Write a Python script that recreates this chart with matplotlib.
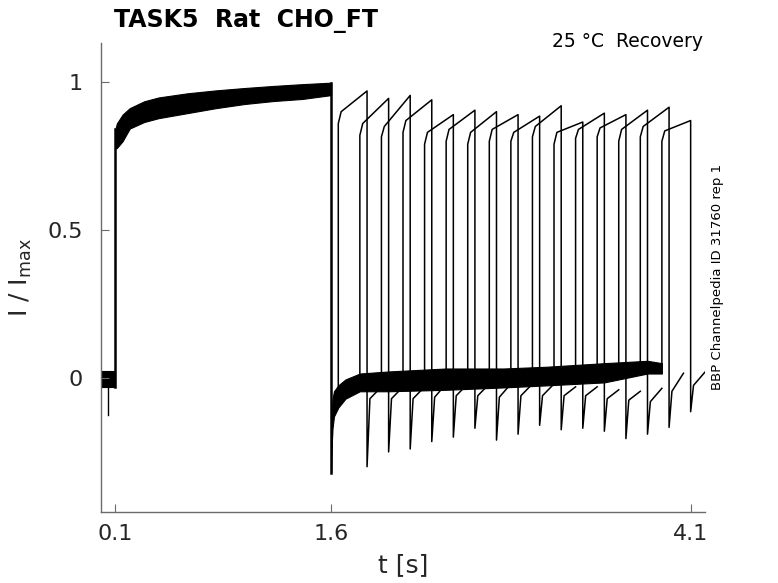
import matplotlib
matplotlib.use("Agg")
import matplotlib.pyplot as plt

# ---- data (time in s, current normalised to I_max) ----
# conditioning pulse: envelope of the overlapping sweeps
t_cond = [0.1, 0.11, 0.15, 0.2, 0.3, 0.4, 0.6, 0.8, 1.0, 1.2, 1.4, 1.6]
cond_hi = [0.84, 0.86, 0.89, 0.912, 0.935, 0.948, 0.962, 0.972, 0.98, 0.987, 0.993, 0.998]
cond_lo = [0.776, 0.777, 0.80, 0.843, 0.865, 0.878, 0.895, 0.912, 0.926, 0.936, 0.943, 0.956]

# holding level before the conditioning pulse
t_pre = [0.0, 0.1]
pre_hi = [0.025, 0.025]
pre_lo = [-0.03, -0.03]
t_pre_spike = 0.048
pre_spike = -0.125

# tail after conditioning pulse and recovery interval envelope
tail_main = -0.32
t_gap = [1.6, 1.603, 1.61, 1.62, 1.65, 1.7, 1.8, 2.0, 2.4, 2.8, 3.1, 3.5, 3.8, 3.9]
gap_hi = [-0.28, -0.12, -0.07, -0.045, -0.025, -0.005, 0.015, 0.022, 0.032, 0.032, 0.038, 0.05, 0.058, 0.05]
gap_lo = [-0.32, -0.24, -0.17, -0.13, -0.1, -0.07, -0.045, -0.045, -0.04, -0.032, -0.025, -0.015, 0.015, 0.015]

# test pulses (one per sweep)
test_on = [1.65, 1.80, 1.95, 2.10, 2.25, 2.40, 2.55, 2.70, 2.85, 3.00, 3.15, 3.30, 3.45, 3.60, 3.75, 3.90]
test_off = [1.85, 2.00, 2.15, 2.30, 2.45, 2.60, 2.75, 2.90, 3.05, 3.20, 3.35, 3.50, 3.65, 3.80, 3.95, 4.10]
pre_level = [-0.06, -0.03, -0.02, -0.01, 0.0, 0.0, 0.0, 0.01, 0.01, 0.02, 0.02, 0.02, 0.03, 0.03, 0.04, 0.04]
start_level = [0.86, 0.82, 0.815, 0.83, 0.79, 0.80, 0.79, 0.80, 0.80, 0.815, 0.79, 0.81, 0.815, 0.80, 0.815, 0.80]
early_level = [0.90, 0.86, 0.85, 0.87, 0.83, 0.84, 0.83, 0.84, 0.83, 0.85, 0.83, 0.84, 0.845, 0.84, 0.85, 0.835]
end_level = [0.97, 0.945, 0.955, 0.94, 0.89, 0.905, 0.90, 0.89, 0.885, 0.92, 0.865, 0.895, 0.89, 0.905, 0.915, 0.87]
tail_level = [-0.30, -0.25, -0.24, -0.215, -0.20, -0.17, -0.21, -0.19, -0.16, -0.175, -0.17, -0.18, -0.205, -0.19, -0.167, -0.114]
post_mid = [-0.07, -0.07, -0.07, -0.065, -0.06, -0.06, -0.065, -0.06, -0.06, -0.06, -0.06, -0.07, -0.075, -0.08, -0.045, -0.025]
post_end = [-0.03, -0.03, -0.03, -0.02, -0.02, -0.02, -0.02, -0.02, -0.02, -0.03, -0.03, -0.04, -0.045, -0.035, 0.016, 0.02]

x_ticks = [0.1, 1.6, 4.1]
y_ticks = [0, 0.5, 1]
y_ticklabels = ["0", "0.5", "1"]

# ---- figure ----
fig = plt.figure(figsize=(7.78, 5.83), dpi=100)
ax = fig.add_axes([0.1298, 0.1218, 0.7764, 0.8044])

# holding + conditioning pulse
ax.fill_between(t_pre, pre_lo, pre_hi, color="black", lw=0.8)
ax.plot([t_pre_spike, t_pre_spike], [pre_lo[0], pre_spike], color="black", lw=1.0)
ax.plot([t_cond[0], t_cond[0]], [pre_lo[-1], cond_hi[0]], color="black", lw=1.8)
ax.fill_between(t_cond, cond_lo, cond_hi, color="black", lw=0.8)
ax.plot([t_cond[-1], t_cond[-1]], [cond_hi[-1], tail_main], color="black", lw=1.8)

# recovery interval band
ax.fill_between(t_gap, gap_lo, gap_hi, color="black", lw=0.8)

# test pulses and their tails
for i in range(len(test_on)):
    on, off = test_on[i], test_off[i]
    xs = [on, on, on + 0.02, off, off, off + 0.02, off + 0.1]
    ys = [pre_level[i], start_level[i], early_level[i], end_level[i],
          tail_level[i], post_mid[i], post_end[i]]
    ax.plot(xs, ys, color="black", lw=1.1)

# axes styling
ax.set_xlim(0, 4.2)
ax.set_ylim(-0.453, 1.132)
for side in ["top", "right"]:
    ax.spines[side].set_visible(False)
for side in ["left", "bottom"]:
    ax.spines[side].set_color("#6b6b6b")
    ax.spines[side].set_linewidth(1.0)
ax.set_xticks(x_ticks)
ax.set_xticklabels([str(v) for v in x_ticks])
ax.set_yticks(y_ticks)
ax.set_yticklabels(y_ticklabels)
ax.tick_params(axis="x", direction="in", length=6, color="#6b6b6b",
               labelsize=16, labelcolor="#262626", pad=9)
ax.tick_params(axis="y", direction="in", length=6, color="#6b6b6b",
               labelsize=16, labelcolor="#262626", pad=13)

ax.set_xlabel("t [s]", fontsize=18, color="#262626", labelpad=6)
ax.set_ylabel(r"I / I$_{\mathrm{max}}$", fontsize=18, color="#262626", labelpad=10)

fig.text(114 / 778, 1 - 27 / 583, "TASK5  Rat  CHO_FT", fontsize=17,
         fontweight="bold", ha="left", va="baseline")
fig.text(703 / 778, 1 - 47 / 583, "25 °C  Recovery", fontsize=13.5,
         ha="right", va="baseline")
fig.text(717 / 778, 1 - 277 / 583, "BBP Channelpedia ID 31760 rep 1", fontsize=9.5,
         rotation=90, ha="center", va="center")

fig.savefig("out.png", dpi=100)
